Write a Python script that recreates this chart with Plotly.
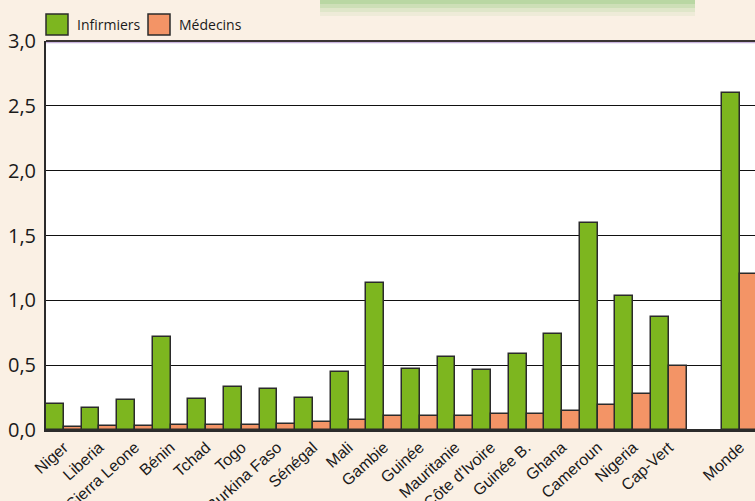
import plotly.graph_objects as go

# Personnel de santé pour 1 000 habitants
pays = ["Niger", "Liberia", "Sierra Leone", "Bénin", "Tchad", "Togo", "Burkina Faso",
        "Sénégal", "Mali", "Gambie", "Guinée", "Mauritanie", "Côte d'Ivoire",
        "Guinée B.", "Ghana", "Cameroun", "Nigeria", "Cap-Vert", "Monde"]
infirmiers = [0.20, 0.17, 0.23, 0.72, 0.24, 0.33, 0.32, 0.25, 0.45, 1.13,
              0.47, 0.56, 0.46, 0.59, 0.74, 1.60, 1.03, 0.87, 2.60]
medecins = [0.02, 0.03, 0.03, 0.04, 0.04, 0.04, 0.05, 0.06, 0.08, 0.11,
            0.11, 0.11, 0.12, 0.12, 0.15, 0.19, 0.28, 0.49, 1.20]
y_ticks = [0, 0.5, 1.0, 1.5, 2.0, 2.5, 3.0]

# "Monde" is set apart from the countries by one empty slot
positions = list(range(len(pays) - 1)) + [len(pays)]

VERT = "#7DB61F"
ORANGE = "#F39466"
CONTOUR = "#2B2B2B"
FOND = "#FAF0E4"

W, H = 755, 501
ML, MR, MT, MB = 46, 0, 41, 71
PW, PH = W - ML - MR, H - MT - MB


def px_x(px):
    return (px - ML) / PW


def px_y(py):
    return (H - MB - py) / PH


fig = go.Figure()
fig.add_trace(go.Bar(x=positions, y=infirmiers, name="Infirmiers",
                     marker=dict(color=VERT, line=dict(color=CONTOUR, width=1.5))))
fig.add_trace(go.Bar(x=positions, y=medecins, name="Médecins",
                     marker=dict(color=ORANGE, line=dict(color=CONTOUR, width=1.5))))

shapes = []
# soft green band along the top edge
for h, op in [(16, 0.10), (12, 0.15), (8, 0.22), (4, 0.3)]:
    shapes.append(dict(type="rect", xref="paper", yref="paper",
                       x0=px_x(320), x1=px_x(695), y0=px_y(h), y1=px_y(0),
                       fillcolor="#8CC878", opacity=op, line=dict(width=0), layer="below"))
# frame top border
shapes.append(dict(type="line", xref="paper", yref="paper", x0=0, x1=1,
                   y0=px_y(42.5), y1=px_y(42.5), line=dict(color="#C9B5DE", width=1.5)))
shapes.append(dict(type="line", xref="paper", yref="paper", x0=0, x1=1,
                   y0=1, y1=1, line=dict(color="#3A3434", width=2)))

# legend boxes
annotations = []
legend_items = [(fig.data[0].name, VERT, 46), (fig.data[1].name, ORANGE, 148)]
for name, col, x0 in legend_items:
    shapes.append(dict(type="rect", xref="paper", yref="paper",
                       x0=px_x(x0), x1=px_x(x0 + 22), y0=px_y(35), y1=px_y(14),
                       fillcolor=col, line=dict(color=CONTOUR, width=1.5)))
    annotations.append(dict(xref="paper", yref="paper", x=px_x(x0 + 29), y=px_y(24.5),
                            text=name, showarrow=False, xanchor="left", yanchor="middle",
                            font=dict(family="Open Sans", size=14, color="#1A1A1A")))

fig.update_layout(
    width=W, height=H,
    margin=dict(l=ML, r=MR, t=MT, b=MB, autoexpand=False),
    paper_bgcolor=FOND, plot_bgcolor="white",
    barmode="group", bargap=0, bargroupgap=0,
    showlegend=False,
    separators=", ",
    shapes=shapes, annotations=annotations,
    xaxis=dict(range=[-0.5, len(pays) + 0.42], tickmode="array",
               tickvals=positions, ticktext=pays, tickangle=-42, automargin=False,
               tickfont=dict(family="Liberation Sans", size=16, color="#1A1A1A"),
               showline=True, linecolor=CONTOUR, linewidth=2, showgrid=False,
               ticks="", zeroline=False),
    yaxis=dict(range=[0, 3.0], tickmode="array", tickvals=y_ticks, tickformat=".1f",
               automargin=False, ticklabelstandoff=4,
               tickfont=dict(family="Open Sans", size=20, color="#1A1A1A"),
               showgrid=True, gridcolor="#111111", gridwidth=1.3,
               showline=True, linecolor=CONTOUR, linewidth=2, ticks="",
               zeroline=True, zerolinecolor=CONTOUR, zerolinewidth=2),
)

fig.write_html("out.html")
